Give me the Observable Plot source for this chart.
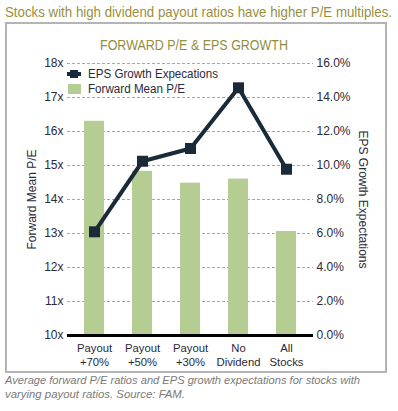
<!DOCTYPE html>
<html><head><meta charset="utf-8">
<script src="https://cdn.jsdelivr.net/npm/d3@7"></script>
<script src="https://cdn.jsdelivr.net/npm/@observablehq/plot@0.6"></script>
<style>
body{margin:0;width:398px;height:411px;position:relative;background:#fff;font-family:"Liberation Sans",Arial,sans-serif;overflow:hidden}
.fit{display:inline-block;white-space:nowrap}
#title{position:absolute;left:5px;top:3px;font-size:15px;color:#9a8f3c;transform-origin:0 50%}
#box{position:absolute;left:5px;top:22px;width:378px;height:347px;border:2px solid #b4b4b4;pointer-events:none}
#inner{position:absolute;top:37px;font-size:14px;color:#938d40;transform-origin:0 50%}
#chart{position:absolute;left:0;top:0}
.leg{position:absolute;font-size:12px;color:#2a2a3a;white-space:nowrap;line-height:14px;transform-origin:0 50%}
.sw{position:absolute}
.cap{position:absolute;left:5px;font-style:italic;font-size:11.5px;line-height:14px;color:#7a7a7a;transform-origin:0 50%}
</style></head>
<body>
<span id="title" class="fit">Stocks with high dividend payout ratios have higher P/E multiples.</span>
<div id="box"></div>
<span id="inner" class="fit">FORWARD P/E &amp; EPS GROWTH</span>
<div id="chart"></div>
<div class="sw" style="left:67px;top:72px;width:14px;height:4px;background:#1b2a38"></div>
<div class="sw" style="left:70px;top:70px;width:8px;height:8px;background:#1b2a38"></div>
<span id="leg1" class="leg fit" style="left:88px;top:67px">EPS Growth Expecations</span>
<div class="sw" style="left:68px;top:84px;width:13px;height:10px;background:#b5cd93"></div>
<span id="leg2" class="leg fit" style="left:88px;top:82px">Forward Mean P/E</span>
<span id="cap1" class="cap fit" style="top:373px">Average forward P/E ratios and EPS growth expectations for stocks with</span>
<span id="cap2" class="cap fit" style="top:387px">varying payout ratios. Source: FAM.</span>
<script>
const categories = ["Payout\n+70%", "Payout\n+50%", "Payout\n+30%", "No\nDividend", "All\nStocks"];
const forwardPE = [16.3, 14.83, 14.48, 14.6, 13.06];
const epsGrowth = [6.1, 10.25, 11.0, 14.57, 9.78];
const peTicks = [10, 11, 12, 13, 14, 15, 16, 17, 18];

const data = categories.map((c, i) => ({cat: c, pe: forwardPE[i], eps: epsGrowth[i], epsY: 10 + epsGrowth[i] / 2}));

const plot = Plot.plot({
  width: 398,
  height: 380,
  marginLeft: 67,
  marginRight: 85,
  marginTop: 63,
  marginBottom: 45,
  style: {background: "transparent", fontFamily: "Liberation Sans, Arial, sans-serif", fontSize: "12px", color: "#2a2a3a", overflow: "visible"},
  x: {domain: categories, paddingInner: 0.586, paddingOuter: 0.34, label: null},
  y: {domain: [10, 18], label: null},
  marks: [
    Plot.gridY(peTicks.filter(d => d > 10), {stroke: "#a8a8a8", strokeOpacity: 1, strokeDasharray: "3,2"}),
    Plot.barY(data, {x: "cat", y1: 10, y2: "pe", fill: "#b5cd93"}),
    Plot.ruleY([10], {stroke: "#000", strokeWidth: 3}),
    Plot.line(data, {x: "cat", y: "epsY", stroke: "#1b2a38", strokeWidth: 4}),
    Plot.dot(data, {x: "cat", y: "epsY", symbol: "square", r: 6.2, fill: "#1b2a38"}),
    Plot.axisY(peTicks, {anchor: "left", tickSize: 0, tickPadding: 4, tickFormat: d => d + "x", label: null, fill: "#2a2a3a"}),
    Plot.axisY(peTicks, {anchor: "right", tickSize: 0, tickPadding: 3, tickFormat: d => ((d - 10) * 2).toFixed(1) + "%", label: null, fill: "#2a2a3a"}),
    Plot.axisX({tickSize: 0, tickPadding: 7, fontSize: 11.3, lineHeight: 1.2, label: null, fill: "#2a2a3a"}),
    Plot.text(["Forward Mean P/E"], {frameAnchor: "left", textAnchor: "middle", dx: -35, rotate: -90, fill: "#2a2a3a"}),
    Plot.text(["EPS Growth Expectations"], {frameAnchor: "right", textAnchor: "middle", dx: 49, rotate: 90, fill: "#2a2a3a"})
  ]
});
document.getElementById("chart").appendChild(plot);

function fit(id, width, center) {
  const el = document.getElementById(id);
  const w = el.getBoundingClientRect().width;
  const s = width / w;
  el.style.transform = `scaleX(${s})`;
  if (center != null) el.style.left = (center - width / 2) + "px";
}
fit("title", 387);
fit("inner", 188, 194);
fit("leg1", 130);
fit("leg2", 97);
fit("cap1", 355);
fit("cap2", 180);
</script>
</body></html>
